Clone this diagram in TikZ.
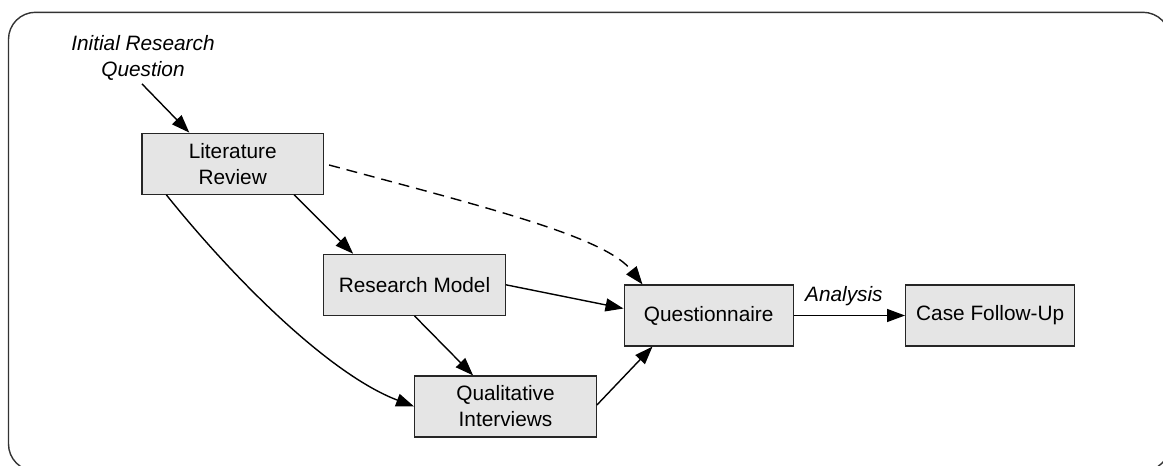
\documentclass[tikz,border=0pt]{standalone}
\usepackage{fontspec}
\setmainfont{Liberation Sans}
\usetikzlibrary{arrows.meta,calc}

\begin{document}
\begin{tikzpicture}[
    x=0.5pt, y=-0.5pt,
    font=\fontsize{10.4}{13}\selectfont,
    stage/.style={draw=black!85, line width=0.6pt, fill=black!10,
                  align=center, minimum height=30.5pt, inner sep=1pt},
    wide/.style={stage, minimum width=90.8pt},
    narrow/.style={stage, minimum width=84.6pt},
    arr/.style={line width=0.7pt, -{Triangle[length=9pt,width=6.5pt]}},
    note/.style={font=\fontsize{10.4}{13}\selectfont\itshape, align=center}
  ]
  \useasboundingbox (0,0) rectangle (1163,466);
  \clip (0,0) rectangle (1163,466);

  % frame around the process
  \draw[black!80, line width=0.7pt, rounded corners=13.5pt]
    (8.5,12.3) rectangle (1170,471);

  % stages
  \node[wide]   (lit)  at (232.7,163.7) {Literature\\Review};
  \node[wide]   (rm)   at (414.5,284.8) {Research Model};
  \node[wide]   (qi)   at (505.5,406.5) {Qualitative\\Interviews};
  \node[narrow] (q)    at (708.7,315.5) {Questionnaire};
  \node[narrow] (case) at (990.2,315.5) {Case Follow-Up};

  % starting point
  \node[note, inner sep=1.5pt] (irq) at (143,58) {Initial Research\\Question};

  % connectors
  \draw[arr] ($(irq.south)+(-1,0)$) -- ($(lit.north west)+(48,0)$);
  \draw[arr] ($(lit.south east)+(-30,0)$) -- ($(rm.north west)+(30,0)$);
  \draw[arr] ($(lit.south west)+(25,0)$)
      .. controls +(69,86) and +(-84,-32) .. (qi.west);
  \draw[arr, dash pattern=on 5.5pt off 3.5pt]
      ($(lit.east)+(5,1.3)$)
      .. controls +(164,44) and +(-37,-47) .. ($(q.north west)+(19,0)$);
  \draw[arr] (rm.east) -- ($(q.west)+(0,-7)$);
  \draw[arr] (rm.south) -- ($(qi.north west)+(59,0)$);
  \draw[arr] ($(qi.east)+(0,-1.5)$) -- ($(q.south west)+(29,0)$);
  \draw[arr] (q.east) -- node[note, above=1pt, pos=0.45] (an) {Analysis} (case.west);
\end{tikzpicture}
\end{document}
